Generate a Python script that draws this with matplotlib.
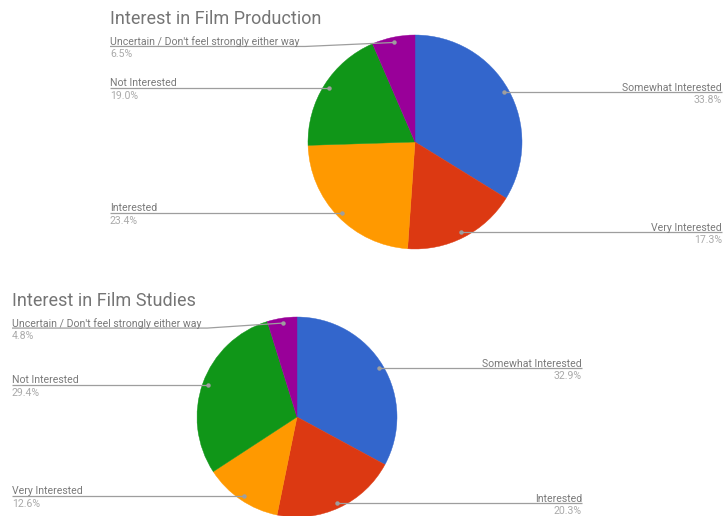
import numpy as np
import matplotlib
matplotlib.use("Agg")
import matplotlib.pyplot as plt

W, H = 723, 516
PX = 72 / 100  # points per pixel at dpi 100

colors = ['#3366cc', '#dc3912', '#ff9900', '#109618', '#990099']

# chart 1
prod_title = 'Interest in Film Production'
prod_labels = ['Somewhat Interested', 'Very Interested', 'Interested',
               'Not Interested', "Uncertain / Don't feel strongly either way"]
prod_values = [33.8, 17.3, 23.4, 19.0, 6.5]

# chart 2
stud_title = 'Interest in Film Studies'
stud_labels = ['Somewhat Interested', 'Interested', 'Very Interested',
               'Not Interested', "Uncertain / Don't feel strongly either way"]
stud_values = [32.9, 20.3, 12.6, 29.4, 4.8]

plt.rcParams['font.family'] = ['Roboto', 'DejaVu Sans']

fig = plt.figure(figsize=(W / 100, H / 100), dpi=100, facecolor='white')
ax = fig.add_axes([0, 0, 1, 1])


def fy(y):
    # image y (top-down) -> data y
    return H - y


def draw_chart(title, labels, values, cx, cy, R, left_x, right_x, title_y, offsets):
    wedges, _ = ax.pie(values, colors=colors, startangle=90, counterclock=False,
                       center=(cx, fy(cy)), radius=R,
                       wedgeprops=dict(linewidth=0.3))
    for w in wedges:
        w.set_edgecolor(w.get_facecolor())
    ax.text(left_x, fy(title_y), title, fontsize=18 * PX, color='#757575',
            ha='left', va='baseline')
    total = sum(values)
    cum = np.cumsum([0] + list(values))[:-1]
    for i, (lab, v) in enumerate(zip(labels, values)):
        mid = (cum[i] + v / 2) / total * 2 * np.pi
        dx = 0.95 * R * np.sin(mid)
        dy = 0.95 * R * np.cos(mid)
        px, py = cx + dx, cy - dy
        ly = py + offsets.get(i, 0)
        if px > cx:
            xs = [px, right_x]
            ys = [ly, ly]
            tx, ha = right_x, 'right'
        else:
            elbow = px - 2 if ly == py else left_x + len(lab) * 4.65
            xs = [left_x, elbow, px]
            ys = [ly, ly, py]
            tx, ha = left_x, 'left'
        ax.plot(xs, [fy(y) for y in ys], color='#9e9e9e', lw=0.9,
                solid_capstyle='butt')
        ax.plot(px, fy(py), 'o', color='#9e9e9e', ms=3.2, mec='none')
        ax.text(tx, fy(ly - 1.5), lab, fontsize=10.5 * PX, color='#7a7a7a',
                ha=ha, va='baseline')
        ax.text(tx, fy(ly + 11), '%.1f%%' % v, fontsize=10.5 * PX,
                color='#aaaaaa', ha=ha, va='baseline')


draw_chart(prod_title, prod_labels, prod_values, 415, 142, 107, 110, 722, 24, {4: 4})
draw_chart(stud_title, stud_labels, stud_values, 297, 417, 100, 12, 582, 306, {4: 5})

ax.set_xlim(0, W)
ax.set_ylim(0, H)
ax.set_aspect('auto')
ax.axis('off')

fig.savefig('out.png', dpi=100, facecolor='white')
